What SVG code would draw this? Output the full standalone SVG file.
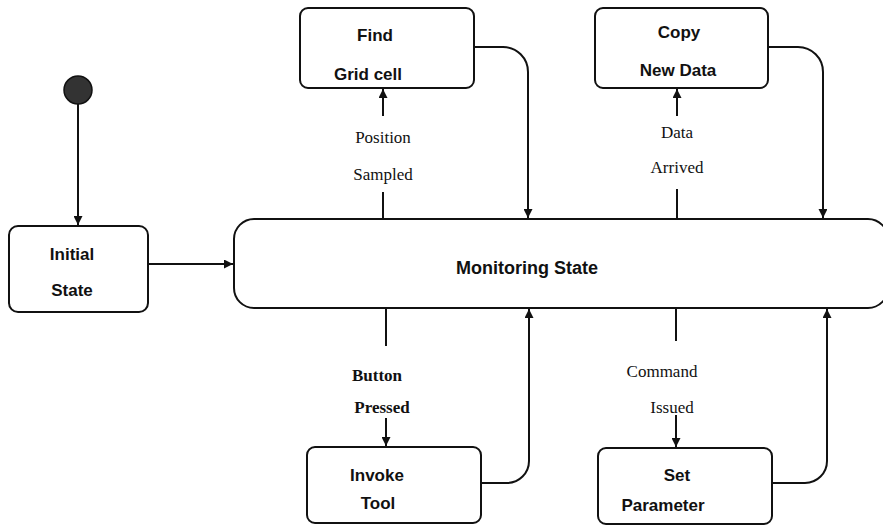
<svg xmlns="http://www.w3.org/2000/svg" width="883" height="527" viewBox="0 0 883 527">
<style>
.box{fill:#fff;stroke:#111;stroke-width:2}
.bt{font-family:"Liberation Sans",Arial,sans-serif;font-weight:bold;font-size:17px;fill:#111;text-anchor:middle}
.lb{font-family:"Liberation Serif","Times New Roman",serif;font-size:17px;fill:#111;text-anchor:middle}
.ln{fill:none;stroke:#111;stroke-width:2}
</style>
<defs>
<marker id="ah" viewBox="0 0 10 10" refX="10" refY="5" markerWidth="9" markerHeight="9" markerUnits="userSpaceOnUse" orient="auto">
<path d="M0,0 L10,5 L0,10 z" fill="#111"/>
</marker>
</defs>
<rect width="883" height="527" fill="#fff"/>
<g id="start"><circle cx="78" cy="90" r="14" fill="#333" stroke="#111" stroke-width="1.5"/></g>
<g id="initial"><rect class="box" x="9" y="226" width="139" height="86" rx="9"/><text class="bt" x="72" y="260">Initial</text><text class="bt" x="72" y="296">State</text></g>
<g id="monitoring"><rect class="box" x="234" y="219" width="654" height="89" rx="20"/><text class="bt" x="527" y="274" style="font-size:18px">Monitoring State</text></g>
<g id="find"><rect class="box" x="300" y="8" width="174" height="80" rx="8"/><text class="bt" x="375" y="41">Find</text><text class="bt" x="368" y="80">Grid cell</text></g>
<g id="copy"><rect class="box" x="595" y="8" width="173" height="80" rx="8"/><text class="bt" x="679" y="38">Copy</text><text class="bt" x="678" y="76">New Data</text></g>
<g id="invoke"><rect class="box" x="307" y="447" width="174" height="76" rx="8"/><text class="bt" x="377" y="481">Invoke</text><text class="bt" x="378" y="509">Tool</text></g>
<g id="setparam"><rect class="box" x="598" y="448" width="174" height="76" rx="8"/><text class="bt" x="677" y="481">Set</text><text class="bt" x="663" y="511">Parameter</text></g>
<g id="connectors">
<path class="ln" d="M78,104 V225" marker-end="url(#ah)"/>
<path class="ln" d="M148,264 H233" marker-end="url(#ah)"/>
<path class="ln" d="M383,219 V192"/>
<path class="ln" d="M383,116 V89" marker-end="url(#ah)"/>
<path class="ln" d="M474,47 H503 A25,25 0 0 1 528,72 V218" marker-end="url(#ah)"/>
<path class="ln" d="M677,218 V189"/>
<path class="ln" d="M677,116 V89" marker-end="url(#ah)"/>
<path class="ln" d="M768,47 H798 A25,25 0 0 1 823,72 V218" marker-end="url(#ah)"/>
<path class="ln" d="M386,308 V346"/>
<path class="ln" d="M386,418 V446" marker-end="url(#ah)"/>
<path class="ln" d="M481,483 H507 A22,22 0 0 0 529,461 V309" marker-end="url(#ah)"/>
<path class="ln" d="M676,308 V341"/>
<path class="ln" d="M676,415 V447" marker-end="url(#ah)"/>
<path class="ln" d="M772,483 H805 A22,22 0 0 0 827,461 V309" marker-end="url(#ah)"/>
</g>
<g id="labels">
<text class="lb" x="383" y="143">Position</text>
<text class="lb" x="383" y="180">Sampled</text>
<text class="lb" x="677" y="138">Data</text>
<text class="lb" x="677" y="173">Arrived</text>
<text class="lb" x="377" y="381" style="font-weight:bold">Button</text>
<text class="lb" x="382" y="413" style="font-weight:bold">Pressed</text>
<text class="lb" x="662" y="377">Command</text>
<text class="lb" x="672" y="413">Issued</text>
</g>
</svg>
